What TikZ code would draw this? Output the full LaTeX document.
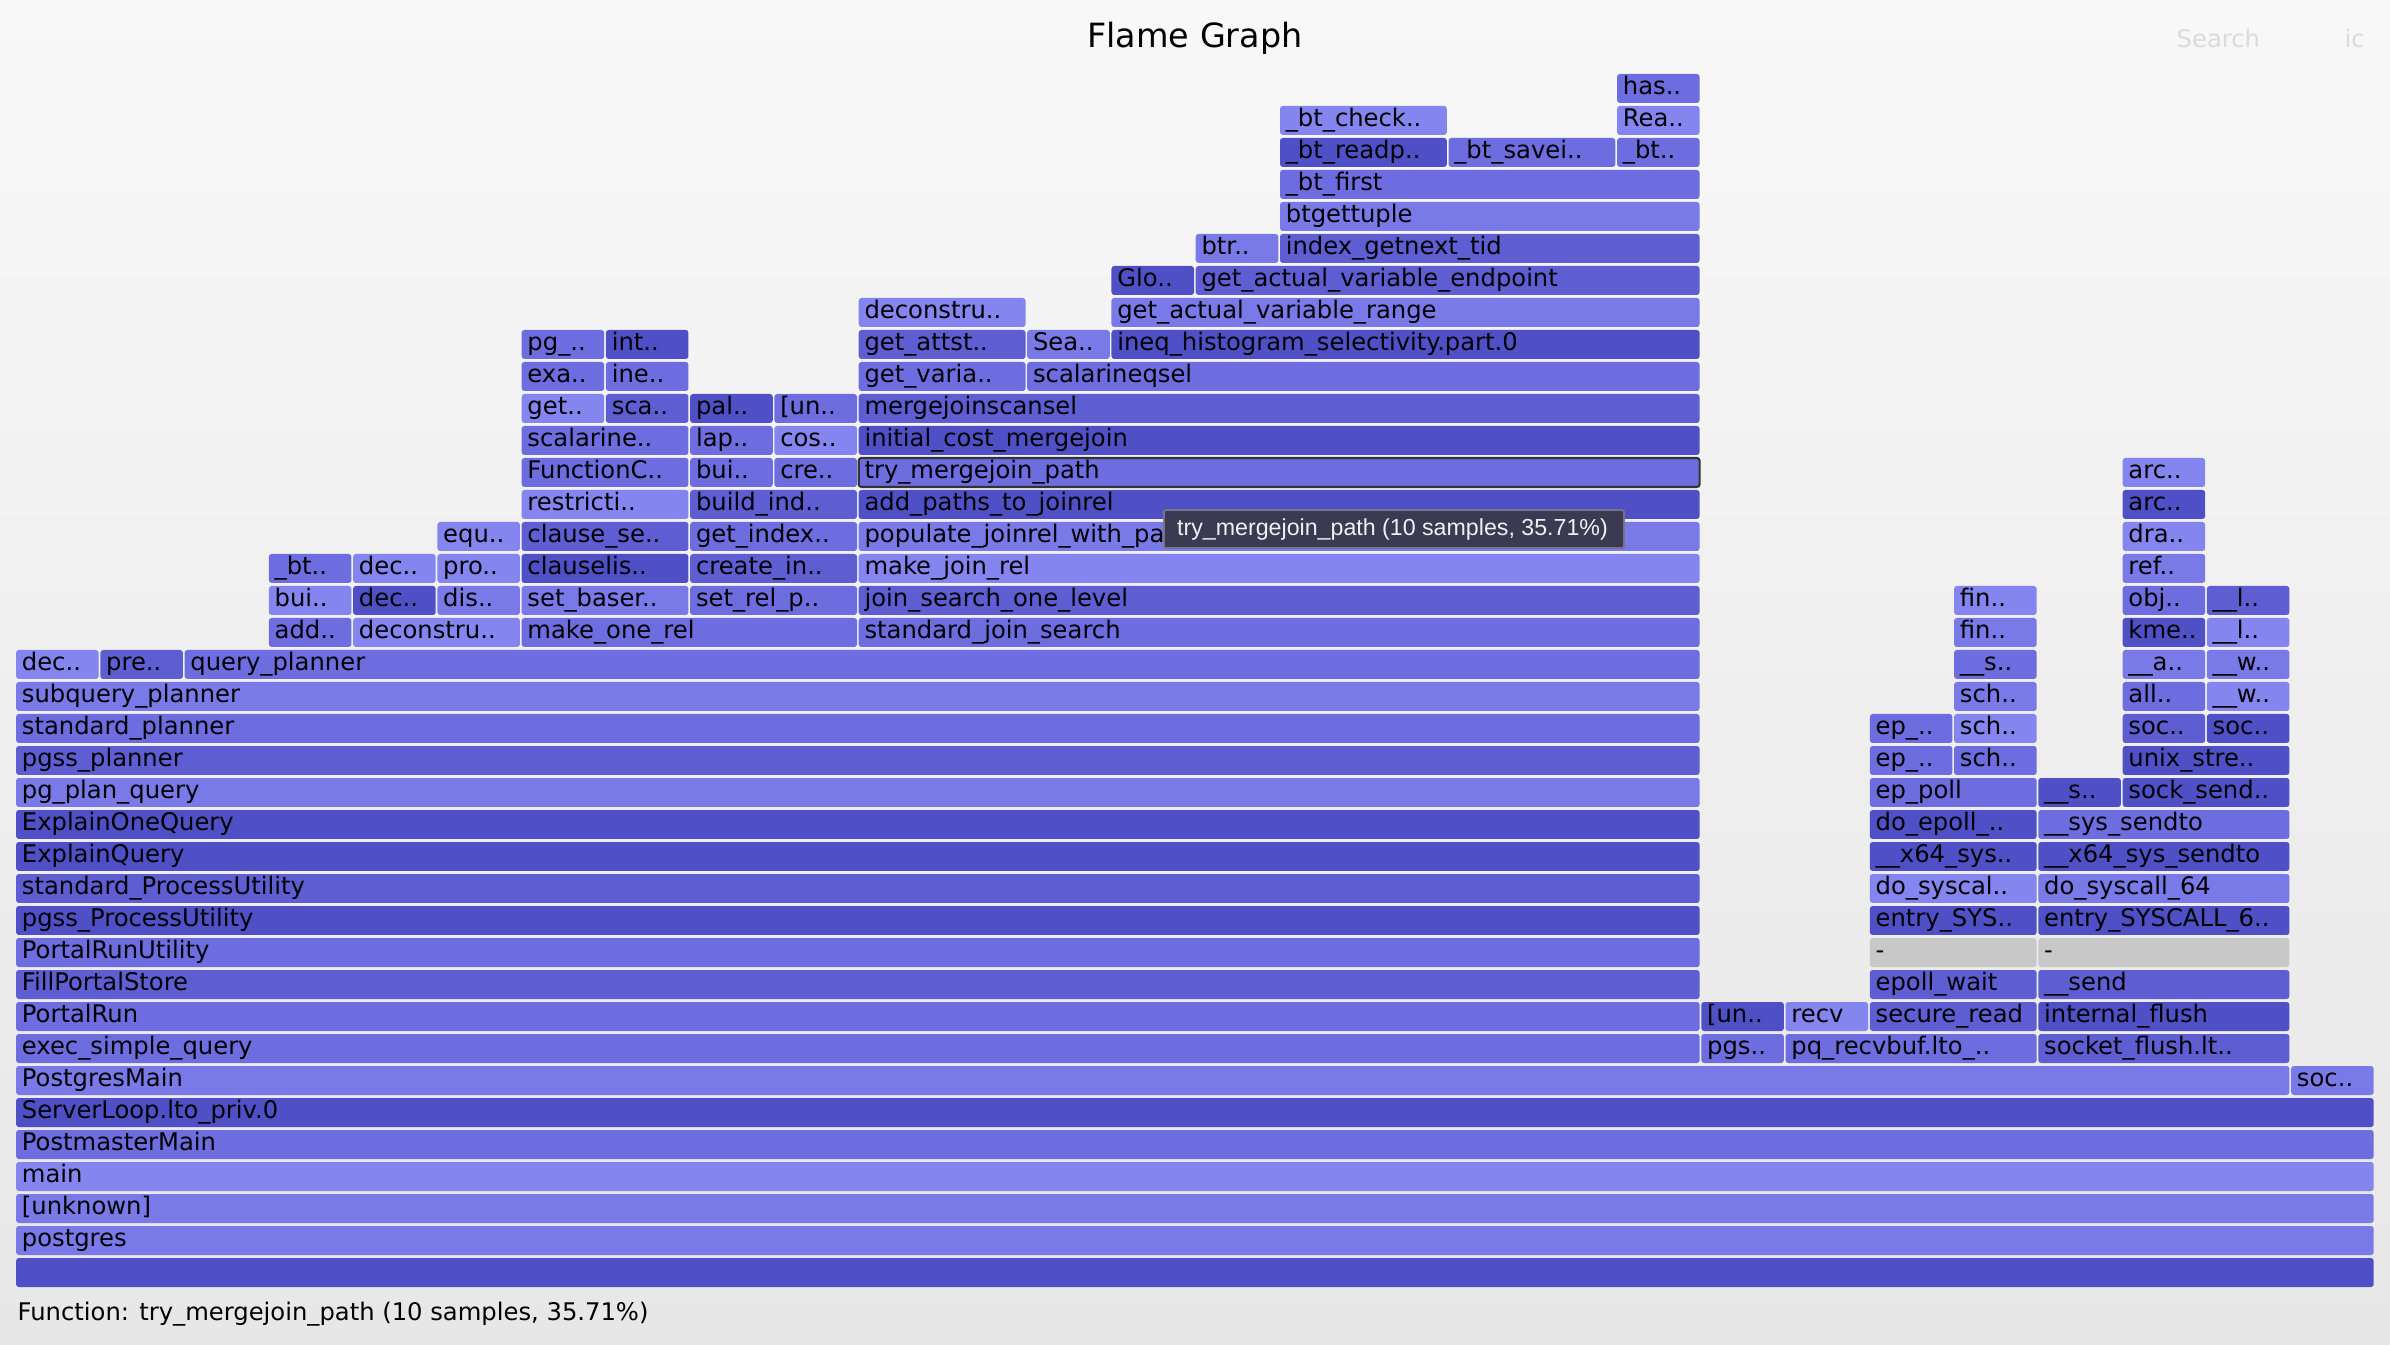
\documentclass[tikz,border=0pt]{standalone}
\usepackage{fontspec}
\setmainfont{DejaVu Sans}
\newfontfamily\tipfont{Liberation Sans}
\usepackage{xcolor}
\usepackage{tikz}
\definecolor{fgA}{RGB}{80,80,198}
\definecolor{fgB}{RGB}{94,94,210}
\definecolor{fgC}{RGB}{109,109,223}
\definecolor{fgD}{RGB}{121,121,231}
\definecolor{fgE}{RGB}{133,133,240}
\definecolor{fgG}{RGB}{200,200,200}
\definecolor{bgtop}{RGB}{248,248,248}
\definecolor{bgbot}{RGB}{231,231,231}
\definecolor{tipbg}{RGB}{60,57,82}
\tikzset{
  lbl/.style={anchor=base west, inner sep=0pt, font=\fontsize{6.9}{8}\selectfont},
  framebar/.style={rounded corners=0.8pt},
}

\begin{document}
\catcode`\_=12
\begin{tikzpicture}
  \useasboundingbox (0,0) rectangle (23.9,13.44);
  \shade[top color=bgtop, bottom color=bgbot] (0,0) rectangle (23.9,13.44);
  \node[anchor=base, inner sep=0pt, font=\fontsize{9.5}{11}\selectfont] (title) at (11.95,12.96) {Flame Graph};
  \node[lbl, text=black!14] (search) at (21.76,12.96) {Search};
  \node[lbl, text=black!14] (ic) at (23.44,12.96) {ic};
  \node[lbl] (details) at (0.17,0.24) {Function: try_mergejoin_path (10 samples, 35.71\%)};
  \begin{scope}[shift={(0.1524,0.57)}, x=0.8426cm, y=0.32cm]
    % one bar per frame: start/row/width/colour/label
    \foreach \s/\k/\w/\c/\lab in {
        0/0/28/fgA/{}, 0/1/28/fgD/postgres, 0/2/28/fgD/{[unknown]}, 0/3/28/fgE/main,
        0/4/28/fgC/PostmasterMain, 0/5/28/fgA/ServerLoop.lto_priv.0,
        0/6/27/fgD/PostgresMain, 27/6/1/fgD/soc..,
        0/7/20/fgC/exec_simple_query, 20/7/1/fgC/pgs.., 21/7/3/fgC/pq_recvbuf.lto_.., 24/7/3/fgB/socket_flush.lt..,
        0/8/20/fgC/PortalRun, 20/8/1/fgA/{[un..}, 21/8/1/fgE/recv, 22/8/2/fgB/secure_read, 24/8/3/fgA/internal_flush,
        0/9/20/fgB/FillPortalStore, 22/9/2/fgB/epoll_wait, 24/9/3/fgB/__send,
        0/10/20/fgC/PortalRunUtility, 22/10/2/fgG/-, 24/10/3/fgG/-,
        0/11/20/fgA/pgss_ProcessUtility, 22/11/2/fgA/entry_SYS.., 24/11/3/fgA/entry_SYSCALL_6..,
        0/12/20/fgB/standard_ProcessUtility, 22/12/2/fgE/do_syscal.., 24/12/3/fgD/do_syscall_64,
        0/13/20/fgA/ExplainQuery, 22/13/2/fgA/__x64_sys.., 24/13/3/fgA/__x64_sys_sendto,
        0/14/20/fgA/ExplainOneQuery, 22/14/2/fgA/do_epoll_.., 24/14/3/fgC/__sys_sendto,
        0/15/20/fgD/pg_plan_query, 22/15/2/fgC/ep_poll, 24/15/1/fgA/__s.., 25/15/2/fgA/sock_send..,
        0/16/20/fgB/pgss_planner, 22/16/1/fgC/ep_.., 23/16/1/fgC/sch.., 25/16/2/fgA/unix_stre..,
        0/17/20/fgC/standard_planner, 22/17/1/fgC/ep_.., 23/17/1/fgE/sch.., 25/17/1/fgB/soc.., 26/17/1/fgA/soc..,
        0/18/20/fgD/subquery_planner, 23/18/1/fgD/sch.., 25/18/1/fgC/all.., 26/18/1/fgE/__w..,
        0/19/1/fgE/dec.., 1/19/1/fgB/pre.., 2/19/18/fgC/query_planner, 23/19/1/fgC/__s.., 25/19/1/fgD/__a.., 26/19/1/fgD/__w..,
        3/20/1/fgC/add.., 4/20/2/fgE/deconstru.., 6/20/4/fgC/make_one_rel, 10/20/10/fgC/standard_join_search,
        23/20/1/fgD/fin.., 25/20/1/fgA/kme.., 26/20/1/fgE/__l..,
        3/21/1/fgE/bui.., 4/21/1/fgA/dec.., 5/21/1/fgD/dis.., 6/21/2/fgD/set_baser.., 8/21/2/fgC/set_rel_p..,
        10/21/10/fgB/join_search_one_level, 23/21/1/fgE/fin.., 25/21/1/fgC/obj.., 26/21/1/fgB/__l..,
        3/22/1/fgC/_bt.., 4/22/1/fgE/dec.., 5/22/1/fgE/pro.., 6/22/2/fgA/clauselis.., 8/22/2/fgB/create_in..,
        10/22/10/fgE/make_join_rel, 25/22/1/fgD/ref..,
        5/23/1/fgE/equ.., 6/23/2/fgB/clause_se.., 8/23/2/fgC/get_index.., 10/23/10/fgD/populate_joinrel_with_paths, 25/23/1/fgE/dra..,
        6/24/2/fgE/restricti.., 8/24/2/fgB/build_ind.., 10/24/10/fgA/add_paths_to_joinrel, 25/24/1/fgA/arc..,
        6/25/2/fgC/FunctionC.., 8/25/1/fgC/bui.., 9/25/1/fgC/cre.., 10/25/10/fgC/try_mergejoin_path, 25/25/1/fgE/arc..,
        6/26/2/fgC/scalarine.., 8/26/1/fgC/lap.., 9/26/1/fgE/cos.., 10/26/10/fgA/initial_cost_mergejoin,
        6/27/1/fgE/get.., 7/27/1/fgB/sca.., 8/27/1/fgA/pal.., 9/27/1/fgC/{[un..}, 10/27/10/fgB/mergejoinscansel,
        6/28/1/fgC/exa.., 7/28/1/fgC/ine.., 10/28/2/fgC/get_varia.., 12/28/8/fgC/scalarineqsel,
        6/29/1/fgC/pg_.., 7/29/1/fgA/int.., 10/29/2/fgB/get_attst.., 12/29/1/fgD/Sea.., 13/29/7/fgA/ineq_histogram_selectivity.part.0,
        10/30/2/fgE/deconstru.., 13/30/7/fgD/get_actual_variable_range,
        13/31/1/fgA/Glo.., 14/31/6/fgB/get_actual_variable_endpoint,
        14/32/1/fgD/btr.., 15/32/5/fgB/index_getnext_tid,
        15/33/5/fgD/btgettuple,
        15/34/5/fgC/_bt_first,
        15/35/2/fgA/_bt_readp.., 17/35/2/fgC/_bt_savei.., 19/35/1/fgC/_bt..,
        15/36/2/fgE/_bt_check.., 19/36/1/fgE/Rea..,
        19/37/1/fgC/has..}
    {
      \fill[\c, framebar] (\s+0.01,\k) rectangle (\s+\w-0.01,\k+0.906);
      \node[lbl] (f\k-\s) at (\s+0.071,\k+0.28) {\lab};
    }
    % selected frame
    \draw[black!80, line width=0.6pt, framebar] (10.01,25) rectangle (19.99,25.906);
  \end{scope}
  % hover tooltip
  \draw[fill=tipbg, draw=tipbg!70!white, line width=0.5pt, rounded corners=0.6pt] (11.64,7.96) rectangle (16.24,8.34);
  \node[anchor=base west, inner sep=0pt, text=black!6, font=\tipfont\fontsize{6.6}{8}\selectfont] (tip) at (11.765,8.09) {try_mergejoin_path (10 samples, 35.71\%)};
\end{tikzpicture}
\end{document}
